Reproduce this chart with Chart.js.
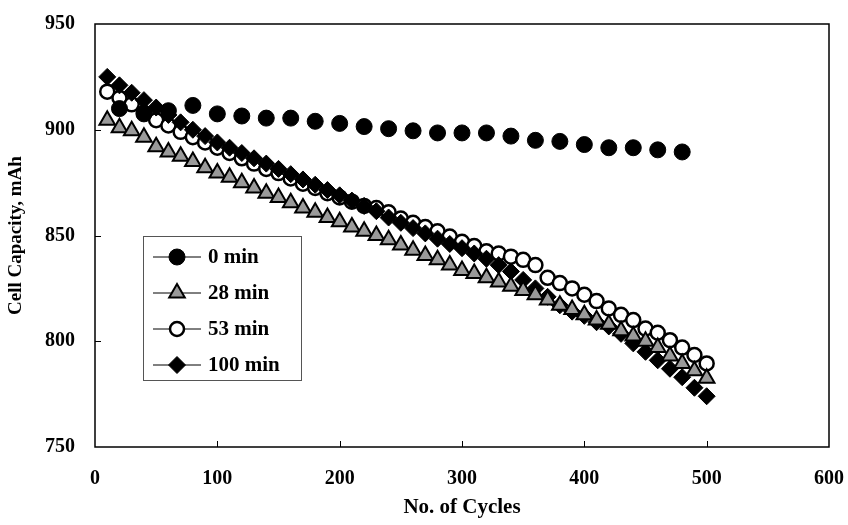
<!DOCTYPE html>
<html>
<head>
<meta charset="utf-8">
<script src="https://cdn.jsdelivr.net/npm/chart.js@4.4.1/dist/chart.umd.min.js"></script>
<style>
  html, body { margin: 0; padding: 0; background: #fff; }
  #wrap { width: 848px; height: 525px; }
</style>
</head>
<body>
<div id="wrap"><canvas id="cap" width="848" height="525"></canvas></div>
<script>
// capacity readings, 0 min sampled every 20 cycles, the rest every 10
const cycles0 = [20, 40, 60, 80, 100, 120, 140, 160, 180, 200, 220, 240,
                 260, 280, 300, 320, 340, 360, 380, 400, 420, 440, 460, 480];
const cap0 = [910, 907.5, 909, 911.5, 907.5, 906.5, 905.5, 905.5, 904, 903, 901.5, 900.5,
              899.5, 898.5, 898.5, 898.5, 897, 895, 894.5, 893, 891.5, 891.5, 890.5, 889.5];

const cycles = [10, 20, 30, 40, 50, 60, 70, 80, 90, 100,
                110, 120, 130, 140, 150, 160, 170, 180, 190, 200,
                210, 220, 230, 240, 250, 260, 270, 280, 290, 300,
                310, 320, 330, 340, 350, 360, 370, 380, 390, 400,
                410, 420, 430, 440, 450, 460, 470, 480, 490, 500];
const cap28 = [904.5, 901, 899.5, 896.5, 892, 889.5, 887.5, 885, 882, 879.5,
               877.5, 875, 872.5, 870, 868, 865.5, 863, 861, 858.5, 856.5,
               854, 852, 850, 848, 845.5, 843, 840.5, 838.5, 836, 833.5,
               832, 830, 828, 826, 824, 822, 819.5, 817, 815, 812.5,
               810, 808, 805, 802.5, 800, 797, 793, 789.5, 786, 782.5];
const cap53 = [918, 915, 912, 908, 904.5, 902, 899, 896.5, 894, 891.5,
               889, 886.5, 884, 881.5, 879.5, 877, 874.5, 872.5, 870, 868,
               866, 864, 863, 861, 858, 856, 854, 852, 849.5, 847,
               845, 842.5, 841.5, 840, 838.5, 836, 830, 827.5, 825, 822,
               819, 815.5, 812.5, 810, 806, 804, 800.5, 797, 793.5, 789.5];
const cap100 = [925, 921, 917.5, 914, 910.5, 907, 903.5, 900, 897, 894,
                891.5, 889, 886.5, 884, 881.5, 879, 876.5, 874, 871.5, 869,
                866.5, 864, 861.5, 858.5, 856, 853.5, 851, 848.5, 846, 844,
                841.5, 839, 836, 833, 829, 825, 821, 817, 814, 812,
                809, 807, 803.5, 799, 795, 791, 787, 783, 778, 774];

const seriesNames = ['0 min', '28 min', '53 min', '100 min'];
const xTicks = [0, 100, 200, 300, 400, 500, 600];
const yTicks = [750, 800, 850, 900, 950];

const FONT = 'Liberation Serif, Times New Roman, serif';

function pts(xs, ys) {
    return xs.map(function (x, i) { return { x: x, y: ys[i] }; });
}

// frame, inward tick marks and the boxed legend inside the plot
const framePlugin = {
    id: 'frame',
    afterDatasetsDraw: function (chart) {
        const ctx = chart.ctx;
        const a = chart.chartArea;
        const xs = chart.scales.x, ys = chart.scales.y;
        ctx.save();
        ctx.strokeStyle = '#000';
        ctx.lineWidth = 1.5;
        ctx.strokeRect(a.left, a.top, a.right - a.left, a.bottom - a.top);
        ctx.lineWidth = 1;
        ctx.beginPath();
        xTicks.slice(1, -1).forEach(function (v) {
            const px = Math.round(xs.getPixelForValue(v)) + 0.5;
            ctx.moveTo(px, a.bottom); ctx.lineTo(px, a.bottom - 6);
        });
        yTicks.slice(1, -1).forEach(function (v) {
            const py = Math.round(ys.getPixelForValue(v)) + 0.5;
            ctx.moveTo(a.left, py); ctx.lineTo(a.left + 6, py);
        });
        ctx.stroke();

        // legend
        const bx = 143, by = 236, bw = 158, bh = 144;
        ctx.fillStyle = '#fff';
        ctx.fillRect(bx, by, bw, bh);
        ctx.strokeStyle = '#555';
        ctx.lineWidth = 1;
        ctx.strokeRect(bx + 0.5, by + 0.5, bw, bh);
        ctx.font = 'bold 21px ' + FONT;
        ctx.textBaseline = 'middle';
        chart.data.datasets.forEach(function (ds, i) {
            const cy = by + 21 + i * 36;
            ctx.strokeStyle = '#000';
            ctx.lineWidth = 1;
            ctx.beginPath();
            ctx.moveTo(bx + 10, cy); ctx.lineTo(bx + 58, cy);
            ctx.stroke();
            ctx.fillStyle = ds.backgroundColor;
            ctx.strokeStyle = ds.borderColor;
            ctx.lineWidth = ds.borderWidth;
            Chart.helpers.drawPoint(ctx, {
                pointStyle: ds.pointStyle, radius: ds.pointRadius, rotation: 0,
                borderWidth: ds.borderWidth
            }, bx + 34, cy);
            ctx.fillStyle = '#000';
            ctx.fillText(ds.label, bx + 65, cy + 1);
        });
        ctx.restore();
    }
};

const tickFont = { family: FONT, size: 20, weight: 'bold' };

new Chart(document.getElementById('cap'), {
    type: 'scatter',
    data: {
        datasets: [
            { label: seriesNames[0], data: pts(cycles0, cap0), order: 0,
              pointStyle: 'circle', pointRadius: 8, backgroundColor: '#000',
              borderColor: '#000', borderWidth: 1 },
            { label: seriesNames[1], data: pts(cycles, cap28), order: 1,
              pointStyle: 'triangle', pointRadius: 9, backgroundColor: '#9a9a9a',
              borderColor: '#000', borderWidth: 2 },
            { label: seriesNames[2], data: pts(cycles, cap53), order: 3,
              pointStyle: 'circle', pointRadius: 7, backgroundColor: '#fff',
              borderColor: '#000', borderWidth: 2.5 },
            { label: seriesNames[3], data: pts(cycles, cap100), order: 2,
              pointStyle: 'rectRot', pointRadius: 8.5, backgroundColor: '#000',
              borderColor: '#000', borderWidth: 1 }
        ]
    },
    options: {
        responsive: false,
        animation: false,
        devicePixelRatio: 1,
        layout: { padding: { left: 0, top: 24, right: 19, bottom: 0 } },
        plugins: { legend: { display: false }, tooltip: { enabled: false } },
        scales: {
            x: {
                type: 'linear', min: 0, max: 600,
                afterFit: function (s) { s.height = 78; s.paddingLeft = 0; s.paddingRight = 0; },
                afterBuildTicks: function (s) { s.ticks = xTicks.map(function (v) { return { value: v }; }); },
                grid: { display: false, drawTicks: false },
                border: { display: false },
                ticks: { font: tickFont, color: '#000', padding: 20, maxRotation: 0 },
                title: { display: true, text: 'No. of Cycles', color: '#000',
                         font: { family: FONT, size: 21, weight: 'bold' }, padding: { top: 0, bottom: 5 } }
            },
            y: {
                type: 'linear', min: 750, max: 950,
                afterFit: function (s) { s.width = 95; s.paddingTop = 0; s.paddingBottom = 0; },
                afterBuildTicks: function (s) { s.ticks = yTicks.map(function (v) { return { value: v }; }); },
                grid: { display: false, drawTicks: false },
                border: { display: false },
                ticks: { font: tickFont, color: '#000', padding: 20 },
                title: { display: true, text: 'Cell Capacity, mAh', color: '#000',
                         font: { family: FONT, size: 19, weight: 'bold' }, padding: { top: 5, bottom: 0 } }
            }
        }
    },
    plugins: [framePlugin]
});
</script>
</body>
</html>
